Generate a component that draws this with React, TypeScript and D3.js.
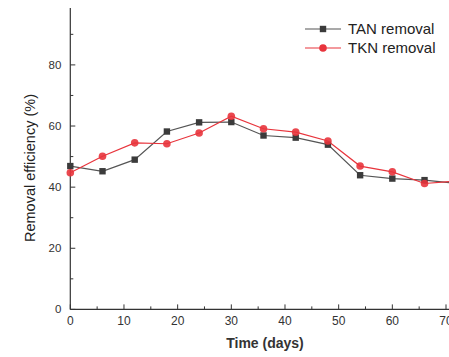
import React from 'react';
import * as d3 from 'd3';

// Data
const days = [0, 6, 12, 18, 24, 30, 36, 42, 48, 54, 60, 66, 72];
const tanRemoval = [46.9, 45.2, 49.0, 58.2, 61.2, 61.3, 56.9, 56.2, 53.9, 43.9, 42.8, 42.3, 41.2];
const tknRemoval = [44.7, 50.1, 54.5, 54.2, 57.7, 63.2, 59.1, 58.0, 55.1, 46.9, 45.0, 41.2, 42.0];
const xTicks = [0, 10, 20, 30, 40, 50, 60, 70];
const yTicks = [0, 20, 40, 60, 80];

const width = 449;
const height = 357;
const font = '"Liberation Sans", Arial, sans-serif';
const axisColor = '#333';
const tanColor = '#3b3b3b';
const tknColor = '#e8343c';

const App = () => {
    const x = d3.scaleLinear().domain([0, 70]).range([70.3, 446]);
    const y = d3.scaleLinear().domain([0, 80]).range([309.4, 64.9]);

    const line = d3.line<number>()
        .x((_, i) => x(days[i]))
        .y(d => y(d));

    const xMinor = d3.range(5, 75, 10);
    const yMinor = d3.range(10, 100, 20);

    return (
        <svg width={width} height={height}
            style={{ position: 'absolute', left: 0, top: 0, background: '#fff' }}>
            {/* axes */}
            <line x1={x(0)} x2={width} y1={y(0)} y2={y(0)} stroke={axisColor} strokeWidth={1.2} />
            <line x1={x(0)} x2={x(0)} y1={y(0)} y2={8} stroke={axisColor} strokeWidth={1.2} />

            {xTicks.map(t => (
                <g key={'xt' + t}>
                    <line x1={x(t)} x2={x(t)} y1={y(0)} y2={y(0) - 5} stroke={axisColor} />
                    <text x={x(t)} y={y(0) + 16} textAnchor="middle" fontFamily={font}
                        fontSize={12} fill="#333">{t}</text>
                </g>
            ))}
            {xMinor.map(t => (
                <line key={'xm' + t} x1={x(t)} x2={x(t)} y1={y(0)} y2={y(0) - 3} stroke={axisColor} />
            ))}

            {yTicks.map(t => (
                <g key={'yt' + t}>
                    <line x1={x(0)} x2={x(0) + 5} y1={y(t)} y2={y(t)} stroke={axisColor} />
                    <text x={x(0) - 9} y={y(t)} dy="0.35em" textAnchor="end" fontFamily={font}
                        fontSize={11.5} fill="#333">{t}</text>
                </g>
            ))}
            {yMinor.map(t => (
                <line key={'ym' + t} x1={x(0)} x2={x(0) + 3} y1={y(t)} y2={y(t)} stroke={axisColor} />
            ))}

            {/* axis titles */}
            <text transform={`translate(30, ${168}) rotate(-90)`} textAnchor="middle"
                dy="0.35em" fontFamily={font} fontSize={14.5} fill="#222">
                Removal efficiency (%)
            </text>
            <text x={265} y={348} textAnchor="middle" fontFamily={font} fontSize={14}
                fontWeight="bold" fill="#333">
                Time (days)
            </text>

            {/* series */}
            <path d={line(tanRemoval) || ''} fill="none" stroke="#555" strokeWidth={1.2} />
            <path d={line(tknRemoval) || ''} fill="none" stroke={tknColor} strokeWidth={1.2} />
            {tanRemoval.map((v, i) => (
                <rect key={'tan' + i} x={x(days[i]) - 3.2} y={y(v) - 3.2} width={6.4} height={6.4}
                    fill={tanColor} />
            ))}
            {tknRemoval.map((v, i) => (
                <circle key={'tkn' + i} cx={x(days[i])} cy={y(v)} r={3.8} fill={tknColor}
                    fillOpacity={0.9} />
            ))}

            {/* legend */}
            <g fontFamily={font} fontSize={15} fill="#222">
                <line x1={305} x2={341} y1={29} y2={29} stroke="#555" strokeWidth={1.2} />
                <rect x={319.8} y={25.8} width={6.4} height={6.4} fill={tanColor} />
                <text x={348} y={29} dy="0.35em">TAN removal</text>
                <line x1={305} x2={341} y1={48} y2={48} stroke={tknColor} strokeWidth={1.2} />
                <circle cx={323} cy={48} r={3.8} fill={tknColor} />
                <text x={348} y={48} dy="0.35em">TKN removal</text>
            </g>
        </svg>
    );
};

export default App;
